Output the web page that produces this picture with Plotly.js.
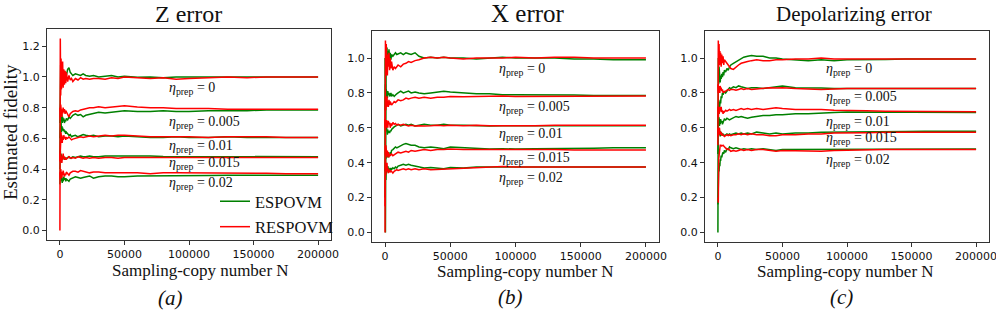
<!DOCTYPE html>
<html>
<head>
<meta charset="utf-8">
<script src="https://cdn.plot.ly/plotly-3.0.1.min.js"></script>
<style>html,body{margin:0;padding:0;background:#fff;}#chart{width:996px;height:311px;}</style>
</head>
<body>
<div id="chart"></div>
<script>
// Sampling-copy number N (shared sample positions)
const N = [0, 300, 600, 900, 1200, 1500, 1800, 2100, 2500, 3000, 3500, 4000, 4500, 5000, 6000, 7000, 8000, 9000, 10000, 12000, 14000, 16000, 18000, 20000, 23000, 26000, 30000, 35000, 40000, 45000, 50000, 60000, 70000, 80000, 90000, 100000, 115000, 130000, 145000, 160000, 175000, 190000, 200000];

const etaLabels = ['0', '0.005', '0.01', '0.015', '0.02'];
const panelTitles = ['Z error', 'X error', 'Depolarizing error'];
const panelTags = ['(a)', '(b)', '(c)'];
const xTickVals = [0, 50000, 100000, 150000, 200000];
const xTickText = ['0', '50000', '100000', '150000', '200000'];
const yTickValsA = [0, 0.2, 0.4, 0.6, 0.8, 1.0, 1.2];
const yTickValsBC = [0, 0.2, 0.4, 0.6, 0.8, 1.0];

// ---- Z error: ESPOVM (green) ----
const zE0 = [0.70, 0.95, 1.08, 0.92, 1.03, 0.96, 1.05, 0.98, 1.02, 0.97, 1.04, 1.00, 1.03, 1.01, 1.05, 1.06, 1.03, 1.02, 1.01, 1.02, 1.015, 1.01, 1.02, 1.01, 1.005, 1.01, 1.0, 1.005, 1.01, 1.0, 1.005, 0.998, 1.0, 0.995, 1.0, 1.0, 1.0, 0.998, 1.002, 1.0, 0.998, 1.0, 1.0];
const zE1 = [0.60, 0.75, 0.68, 0.78, 0.72, 0.76, 0.70, 0.74, 0.71, 0.73, 0.70, 0.72, 0.71, 0.73, 0.72, 0.74, 0.73, 0.745, 0.75, 0.76, 0.75, 0.755, 0.74, 0.75, 0.755, 0.765, 0.77, 0.765, 0.77, 0.775, 0.78, 0.775, 0.775, 0.78, 0.775, 0.775, 0.78, 0.78, 0.78, 0.785, 0.785, 0.785, 0.785];
const zE2 = [0.50, 0.72, 0.66, 0.70, 0.64, 0.68, 0.66, 0.67, 0.65, 0.66, 0.64, 0.65, 0.63, 0.64, 0.63, 0.62, 0.625, 0.61, 0.615, 0.62, 0.61, 0.62, 0.625, 0.62, 0.615, 0.62, 0.61, 0.615, 0.615, 0.61, 0.615, 0.61, 0.605, 0.605, 0.61, 0.605, 0.605, 0.61, 0.605, 0.605, 0.605, 0.605, 0.605];
const zE3 = [0.40, 0.52, 0.47, 0.50, 0.45, 0.49, 0.46, 0.48, 0.47, 0.48, 0.46, 0.47, 0.46, 0.47, 0.475, 0.48, 0.47, 0.475, 0.48, 0.475, 0.48, 0.485, 0.48, 0.48, 0.485, 0.48, 0.48, 0.485, 0.485, 0.485, 0.488, 0.485, 0.485, 0.482, 0.482, 0.48, 0.48, 0.48, 0.48, 0.48, 0.48, 0.48, 0.48];
const zE4 = [0.30, 0.40, 0.32, 0.38, 0.33, 0.36, 0.31, 0.34, 0.32, 0.35, 0.33, 0.34, 0.32, 0.335, 0.33, 0.32, 0.335, 0.34, 0.345, 0.35, 0.345, 0.34, 0.345, 0.35, 0.355, 0.34, 0.35, 0.355, 0.355, 0.35, 0.35, 0.355, 0.355, 0.355, 0.355, 0.355, 0.358, 0.36, 0.36, 0.36, 0.36, 0.36, 0.36];
// ---- Z error: RESPOVM (red) ----
const zR0 = [0.0, 1.25, 0.88, 1.12, 0.92, 1.08, 0.94, 1.10, 0.93, 1.05, 0.95, 1.04, 0.96, 1.03, 0.97, 1.01, 0.98, 0.99, 0.97, 0.99, 0.98, 0.995, 0.985, 0.99, 0.985, 0.99, 0.99, 0.985, 0.995, 0.99, 1.0, 0.995, 0.99, 0.995, 0.985, 0.99, 0.995, 1.0, 0.995, 1.0, 1.0, 1.0, 1.0];
const zR1 = [0.80, 0.72, 0.82, 0.75, 0.80, 0.74, 0.79, 0.76, 0.80, 0.77, 0.79, 0.76, 0.78, 0.77, 0.76, 0.74, 0.76, 0.77, 0.775, 0.78, 0.775, 0.785, 0.79, 0.795, 0.80, 0.80, 0.805, 0.80, 0.805, 0.81, 0.812, 0.805, 0.80, 0.80, 0.795, 0.795, 0.795, 0.79, 0.79, 0.79, 0.79, 0.79, 0.79];
const zR2 = [0.45, 0.62, 0.56, 0.64, 0.58, 0.62, 0.57, 0.61, 0.59, 0.62, 0.60, 0.61, 0.59, 0.605, 0.60, 0.61, 0.595, 0.59, 0.595, 0.60, 0.605, 0.61, 0.605, 0.61, 0.615, 0.61, 0.615, 0.62, 0.615, 0.62, 0.62, 0.615, 0.61, 0.61, 0.61, 0.61, 0.605, 0.61, 0.61, 0.61, 0.605, 0.605, 0.605];
const zR3 = [0.50, 0.45, 0.50, 0.46, 0.49, 0.44, 0.48, 0.46, 0.50, 0.47, 0.48, 0.46, 0.47, 0.465, 0.47, 0.48, 0.475, 0.47, 0.475, 0.47, 0.48, 0.475, 0.47, 0.475, 0.47, 0.475, 0.47, 0.475, 0.475, 0.47, 0.475, 0.475, 0.475, 0.475, 0.475, 0.475, 0.475, 0.475, 0.475, 0.478, 0.478, 0.475, 0.475];
const zR4 = [0.38, 0.33, 0.40, 0.35, 0.39, 0.34, 0.38, 0.36, 0.39, 0.37, 0.35, 0.37, 0.36, 0.38, 0.37, 0.36, 0.375, 0.38, 0.385, 0.385, 0.38, 0.39, 0.385, 0.38, 0.375, 0.38, 0.38, 0.375, 0.375, 0.375, 0.375, 0.375, 0.37, 0.375, 0.375, 0.375, 0.372, 0.375, 0.372, 0.372, 0.37, 0.37, 0.37];

// ---- X error: ESPOVM (green) ----
const xE0 = [1.0, 0.0, 0.60, 1.08, 0.95, 1.06, 0.97, 1.04, 0.98, 1.05, 1.00, 1.03, 0.99, 1.02, 1.01, 1.02, 1.03, 1.02, 1.025, 1.03, 1.02, 1.03, 1.025, 1.02, 1.03, 1.01, 1.0, 1.005, 1.0, 1.005, 1.0, 1.0, 0.995, 1.0, 1.005, 1.0, 1.0, 1.0, 0.995, 0.995, 0.99, 0.99, 0.99];
const xE1 = [0.70, 0.85, 0.76, 0.82, 0.78, 0.80, 0.77, 0.81, 0.79, 0.80, 0.78, 0.79, 0.80, 0.78, 0.79, 0.78, 0.79, 0.795, 0.80, 0.81, 0.80, 0.805, 0.81, 0.80, 0.805, 0.80, 0.795, 0.80, 0.805, 0.81, 0.805, 0.80, 0.795, 0.795, 0.79, 0.79, 0.79, 0.79, 0.788, 0.785, 0.785, 0.785, 0.785];
const xE2 = [0.50, 0.64, 0.58, 0.62, 0.57, 0.60, 0.56, 0.59, 0.57, 0.58, 0.57, 0.585, 0.58, 0.59, 0.60, 0.605, 0.61, 0.615, 0.62, 0.61, 0.615, 0.62, 0.615, 0.62, 0.61, 0.615, 0.62, 0.615, 0.615, 0.62, 0.615, 0.615, 0.612, 0.61, 0.612, 0.612, 0.612, 0.612, 0.612, 0.612, 0.612, 0.612, 0.612];
const xE3 = [0.35, 0.50, 0.42, 0.47, 0.43, 0.46, 0.44, 0.45, 0.43, 0.45, 0.44, 0.46, 0.45, 0.47, 0.475, 0.48, 0.49, 0.485, 0.49, 0.50, 0.505, 0.51, 0.505, 0.50, 0.50, 0.49, 0.485, 0.49, 0.485, 0.48, 0.49, 0.485, 0.48, 0.478, 0.48, 0.478, 0.48, 0.48, 0.482, 0.482, 0.485, 0.485, 0.485];
const xE4 = [0.20, 0.40, 0.30, 0.38, 0.34, 0.37, 0.35, 0.38, 0.36, 0.37, 0.35, 0.365, 0.37, 0.36, 0.37, 0.365, 0.375, 0.37, 0.38, 0.385, 0.39, 0.385, 0.39, 0.385, 0.38, 0.375, 0.37, 0.372, 0.37, 0.365, 0.372, 0.37, 0.375, 0.375, 0.375, 0.375, 0.378, 0.375, 0.375, 0.375, 0.375, 0.375, 0.375];
// ---- X error: RESPOVM (red) ----
const xR0 = [0.0, 1.10, 0.90, 1.08, 0.92, 1.05, 0.90, 1.02, 0.95, 1.03, 0.93, 1.0, 0.94, 0.98, 0.93, 0.95, 0.94, 0.95, 0.96, 0.95, 0.965, 0.97, 0.98, 0.975, 0.985, 0.99, 1.0, 1.005, 1.0, 1.005, 1.0, 0.995, 1.0, 1.0, 1.0, 1.005, 1.0, 1.005, 1.005, 1.0, 1.0, 1.0, 1.0];
const xR1 = [0.60, 0.78, 0.70, 0.76, 0.72, 0.78, 0.73, 0.75, 0.72, 0.76, 0.73, 0.75, 0.74, 0.73, 0.74, 0.75, 0.745, 0.75, 0.76, 0.755, 0.76, 0.77, 0.765, 0.77, 0.775, 0.77, 0.775, 0.77, 0.775, 0.775, 0.78, 0.778, 0.78, 0.78, 0.782, 0.78, 0.78, 0.78, 0.782, 0.782, 0.782, 0.782, 0.782];
const xR2 = [0.65, 0.58, 0.64, 0.60, 0.645, 0.61, 0.63, 0.60, 0.64, 0.62, 0.63, 0.60, 0.625, 0.61, 0.63, 0.62, 0.625, 0.615, 0.62, 0.615, 0.62, 0.615, 0.61, 0.615, 0.61, 0.612, 0.61, 0.612, 0.615, 0.612, 0.615, 0.612, 0.615, 0.612, 0.612, 0.61, 0.612, 0.615, 0.615, 0.615, 0.615, 0.615, 0.615];
const xR3 = [0.50, 0.44, 0.50, 0.45, 0.48, 0.43, 0.47, 0.44, 0.46, 0.43, 0.45, 0.44, 0.445, 0.45, 0.44, 0.445, 0.45, 0.455, 0.46, 0.455, 0.46, 0.465, 0.46, 0.47, 0.465, 0.47, 0.475, 0.47, 0.475, 0.475, 0.478, 0.475, 0.475, 0.475, 0.475, 0.478, 0.475, 0.475, 0.472, 0.472, 0.472, 0.472, 0.472];
const xR4 = [0.15, 0.42, 0.33, 0.39, 0.36, 0.40, 0.35, 0.37, 0.34, 0.36, 0.35, 0.345, 0.355, 0.35, 0.34, 0.35, 0.355, 0.36, 0.355, 0.36, 0.365, 0.36, 0.365, 0.36, 0.365, 0.36, 0.365, 0.36, 0.362, 0.36, 0.365, 0.37, 0.372, 0.375, 0.378, 0.375, 0.375, 0.378, 0.378, 0.375, 0.375, 0.375, 0.375];

// ---- Depolarizing error: ESPOVM (green) ----
const dE0 = [0.0, 1.0, 0.85, 0.95, 0.88, 0.92, 0.86, 0.90, 0.88, 0.91, 0.89, 0.92, 0.90, 0.93, 0.92, 0.94, 0.93, 0.95, 0.96, 0.97, 0.98, 0.99, 1.0, 1.005, 1.01, 1.015, 1.01, 1.01, 1.0, 1.0, 0.995, 0.99, 0.985, 0.99, 0.985, 0.99, 0.99, 0.992, 0.995, 0.995, 0.995, 0.995, 0.995];
const dE1 = [0.60, 0.70, 0.75, 0.68, 0.74, 0.72, 0.76, 0.74, 0.78, 0.77, 0.80, 0.79, 0.80, 0.81, 0.80, 0.81, 0.82, 0.83, 0.825, 0.835, 0.83, 0.84, 0.835, 0.83, 0.825, 0.83, 0.83, 0.825, 0.83, 0.835, 0.84, 0.83, 0.83, 0.828, 0.825, 0.825, 0.828, 0.828, 0.826, 0.826, 0.825, 0.825, 0.825];
const dE2 = [0.55, 0.68, 0.62, 0.66, 0.61, 0.64, 0.62, 0.65, 0.63, 0.64, 0.62, 0.635, 0.64, 0.65, 0.645, 0.655, 0.65, 0.645, 0.65, 0.66, 0.665, 0.66, 0.665, 0.66, 0.655, 0.66, 0.665, 0.67, 0.67, 0.675, 0.675, 0.68, 0.68, 0.685, 0.688, 0.69, 0.69, 0.688, 0.688, 0.69, 0.69, 0.69, 0.688];
const dE3 = [0.45, 0.62, 0.56, 0.60, 0.57, 0.59, 0.55, 0.58, 0.56, 0.57, 0.555, 0.565, 0.56, 0.555, 0.56, 0.565, 0.56, 0.565, 0.56, 0.565, 0.57, 0.565, 0.57, 0.565, 0.57, 0.565, 0.575, 0.57, 0.565, 0.57, 0.565, 0.57, 0.57, 0.575, 0.575, 0.575, 0.578, 0.578, 0.578, 0.58, 0.58, 0.58, 0.58];
const dE4 = [0.16, 0.30, 0.37, 0.35, 0.40, 0.38, 0.42, 0.41, 0.44, 0.43, 0.45, 0.46, 0.45, 0.47, 0.46, 0.48, 0.475, 0.49, 0.485, 0.48, 0.485, 0.48, 0.475, 0.48, 0.475, 0.48, 0.475, 0.48, 0.475, 0.47, 0.475, 0.475, 0.478, 0.475, 0.475, 0.478, 0.478, 0.478, 0.478, 0.478, 0.478, 0.478, 0.478];
// ---- Depolarizing error: RESPOVM (red) ----
const dR0 = [0.50, 1.10, 0.95, 1.08, 0.96, 1.04, 0.98, 1.03, 0.95, 1.02, 0.97, 1.01, 0.96, 0.99, 0.98, 0.97, 0.96, 0.95, 0.94, 0.935, 0.95, 0.96, 0.97, 0.975, 0.98, 0.985, 0.99, 0.985, 0.985, 0.99, 0.99, 0.995, 0.995, 1.0, 0.995, 0.995, 0.995, 0.995, 0.995, 0.998, 0.995, 0.998, 0.995];
const dR1 = [0.85, 0.80, 0.84, 0.81, 0.83, 0.80, 0.84, 0.82, 0.83, 0.81, 0.82, 0.80, 0.81, 0.805, 0.81, 0.815, 0.82, 0.815, 0.82, 0.82, 0.815, 0.82, 0.825, 0.82, 0.825, 0.82, 0.822, 0.825, 0.83, 0.828, 0.83, 0.825, 0.822, 0.82, 0.822, 0.825, 0.825, 0.825, 0.825, 0.825, 0.825, 0.825, 0.825];
const dR2 = [0.72, 0.66, 0.71, 0.68, 0.72, 0.69, 0.71, 0.70, 0.72, 0.69, 0.70, 0.68, 0.695, 0.69, 0.70, 0.695, 0.70, 0.705, 0.70, 0.705, 0.70, 0.705, 0.71, 0.705, 0.71, 0.705, 0.71, 0.705, 0.71, 0.715, 0.71, 0.705, 0.705, 0.705, 0.70, 0.70, 0.698, 0.695, 0.695, 0.692, 0.692, 0.692, 0.692];
const dR3 = [0.60, 0.55, 0.59, 0.56, 0.60, 0.57, 0.58, 0.56, 0.575, 0.555, 0.565, 0.56, 0.555, 0.55, 0.555, 0.56, 0.555, 0.56, 0.555, 0.56, 0.56, 0.565, 0.56, 0.565, 0.56, 0.565, 0.56, 0.56, 0.555, 0.555, 0.56, 0.56, 0.565, 0.565, 0.57, 0.57, 0.572, 0.575, 0.575, 0.575, 0.575, 0.575, 0.575];
const dR4 = [0.20, 0.17, 0.42, 0.45, 0.48, 0.46, 0.50, 0.50, 0.50, 0.495, 0.50, 0.50, 0.495, 0.49, 0.48, 0.475, 0.48, 0.47, 0.465, 0.47, 0.465, 0.47, 0.475, 0.47, 0.475, 0.47, 0.475, 0.475, 0.47, 0.465, 0.47, 0.468, 0.465, 0.465, 0.47, 0.472, 0.475, 0.475, 0.475, 0.475, 0.475, 0.475, 0.475];

const panels = [
  {E: [zE0, zE1, zE2, zE3, zE4], R: [zR0, zR1, zR2, zR3, zR4], xa: 'x', ya: 'y'},
  {E: [xE0, xE1, xE2, xE3, xE4], R: [xR0, xR1, xR2, xR3, xR4], xa: 'x2', ya: 'y2'},
  {E: [dE0, dE1, dE2, dE3, dE4], R: [dR0, dR1, dR2, dR3, dR4], xa: 'x3', ya: 'y3'}
];

const GREEN = '#008000', RED = '#ff0000';
const traces = [];
panels.forEach((p, pi) => {
  p.E.forEach((arr, i) => traces.push({
    x: N, y: arr, xaxis: p.xa, yaxis: p.ya, type: 'scatter', mode: 'lines',
    line: {color: GREEN, width: 1.5}, name: 'ESPOVM', legendgroup: 'E',
    showlegend: pi === 0 && i === 0, hoverinfo: 'skip'
  }));
});
panels.forEach((p, pi) => {
  p.R.forEach((arr, i) => traces.push({
    x: N, y: arr, xaxis: p.xa, yaxis: p.ya, type: 'scatter', mode: 'lines',
    line: {color: RED, width: 1.5}, name: 'RESPOVM', legendgroup: 'R',
    showlegend: pi === 0 && i === 0, hoverinfo: 'skip'
  }));
});

const W = 996, H = 311;
const px = v => v / W;
const py = v => 1 - v / H;

const frames = [
  {x0: 47, x1: 331, y0: 29, y1: 240, yr: [-0.0625, 1.3125], yt: yTickValsA},
  {x0: 372, x1: 659, y0: 31, y1: 242, yr: [-0.055, 1.155], yt: yTickValsBC},
  {x0: 705, x1: 989, y0: 31, y1: 242, yr: [-0.055, 1.155], yt: yTickValsBC}
];

const tickFont = {family: 'DejaVu Sans', size: 11, color: '#111'};
const layout = {
  width: W, height: H, margin: {l: 0, r: 0, t: 0, b: 0},
  paper_bgcolor: '#fff', plot_bgcolor: '#fff',
  showlegend: true,
  legend: {
    x: px(215), xanchor: 'left', y: py(184), yanchor: 'top',
    bgcolor: 'rgba(0,0,0,0)', borderwidth: 0,
    font: {family: 'Liberation Serif', size: 16.5, color: '#111'},
    traceorder: 'grouped', tracegroupgap: 1, itemwidth: 30
  },
  annotations: [],
  font: {family: 'Liberation Serif'}
};

frames.forEach((f, i) => {
  const sfx = i === 0 ? '' : String(i + 1);
  layout['xaxis' + sfx] = {
    domain: [px(f.x0), px(f.x1)], range: [-10000, 210000], anchor: 'y' + sfx,
    tickvals: xTickVals, ticktext: xTickText, ticks: 'outside', ticklen: 4, tickcolor: '#333',
    showline: true, mirror: true, linecolor: '#333', linewidth: 1, ticklabeloverflow: 'allow',
    showgrid: false, zeroline: false, tickfont: tickFont
  };
  layout['yaxis' + sfx] = {
    domain: [py(f.y1), py(f.y0)], range: f.yr, anchor: 'x' + sfx,
    tickvals: f.yt, ticktext: f.yt.map(v => v.toFixed(1)), ticks: 'outside', ticklen: 4, tickcolor: '#333',
    showline: true, mirror: true, linecolor: '#333', linewidth: 1, ticklabeloverflow: 'allow',
    showgrid: false, zeroline: false, tickfont: tickFont
  };
});

function addText(text, x, y, size, opts) {
  layout.annotations.push(Object.assign({
    text: text, xref: 'paper', yref: 'paper', x: px(x), y: py(y),
    xanchor: 'center', yanchor: 'middle', showarrow: false,
    font: {family: 'Liberation Serif', size: size, color: '#111'}
  }, opts || {}));
}

// titles
addText(panelTitles[0], 188, 14, 24);
addText(panelTitles[1], 528, 14, 25);
addText(panelTitles[2], 854, 14, 21);
// axis titles
addText('Sampling-copy number N', 200, 270, 17);
addText('Sampling-copy number N', 525, 271, 17);
addText('Sampling-copy number N', 845, 271, 17);
addText('Estimated fidelity', 10, 132, 19, {textangle: -90});
// panel tags
addText('<i>' + panelTags[0] + '</i>', 170, 298, 21);
addText('<i>' + panelTags[1] + '</i>', 510, 297, 21);
addText('<i>' + panelTags[2] + '</i>', 841, 297, 21);

// eta labels
const etaPos = [
  {x: 167, ys: [88, 122, 146, 164, 183]},
  {x: 497, ys: [69, 107, 134, 158, 178]},
  {x: 824, ys: [70, 98, 122, 138, 160]}
];
etaPos.forEach(p => {
  p.ys.forEach((y, i) => {
    addText('<i>η</i><sub>prep</sub> = ' + etaLabels[i], p.x, y, 14, {xanchor: 'left'});
  });
});

Plotly.newPlot('chart', traces, layout, {displayModeBar: false, staticPlot: true});
</script>
</body>
</html>
